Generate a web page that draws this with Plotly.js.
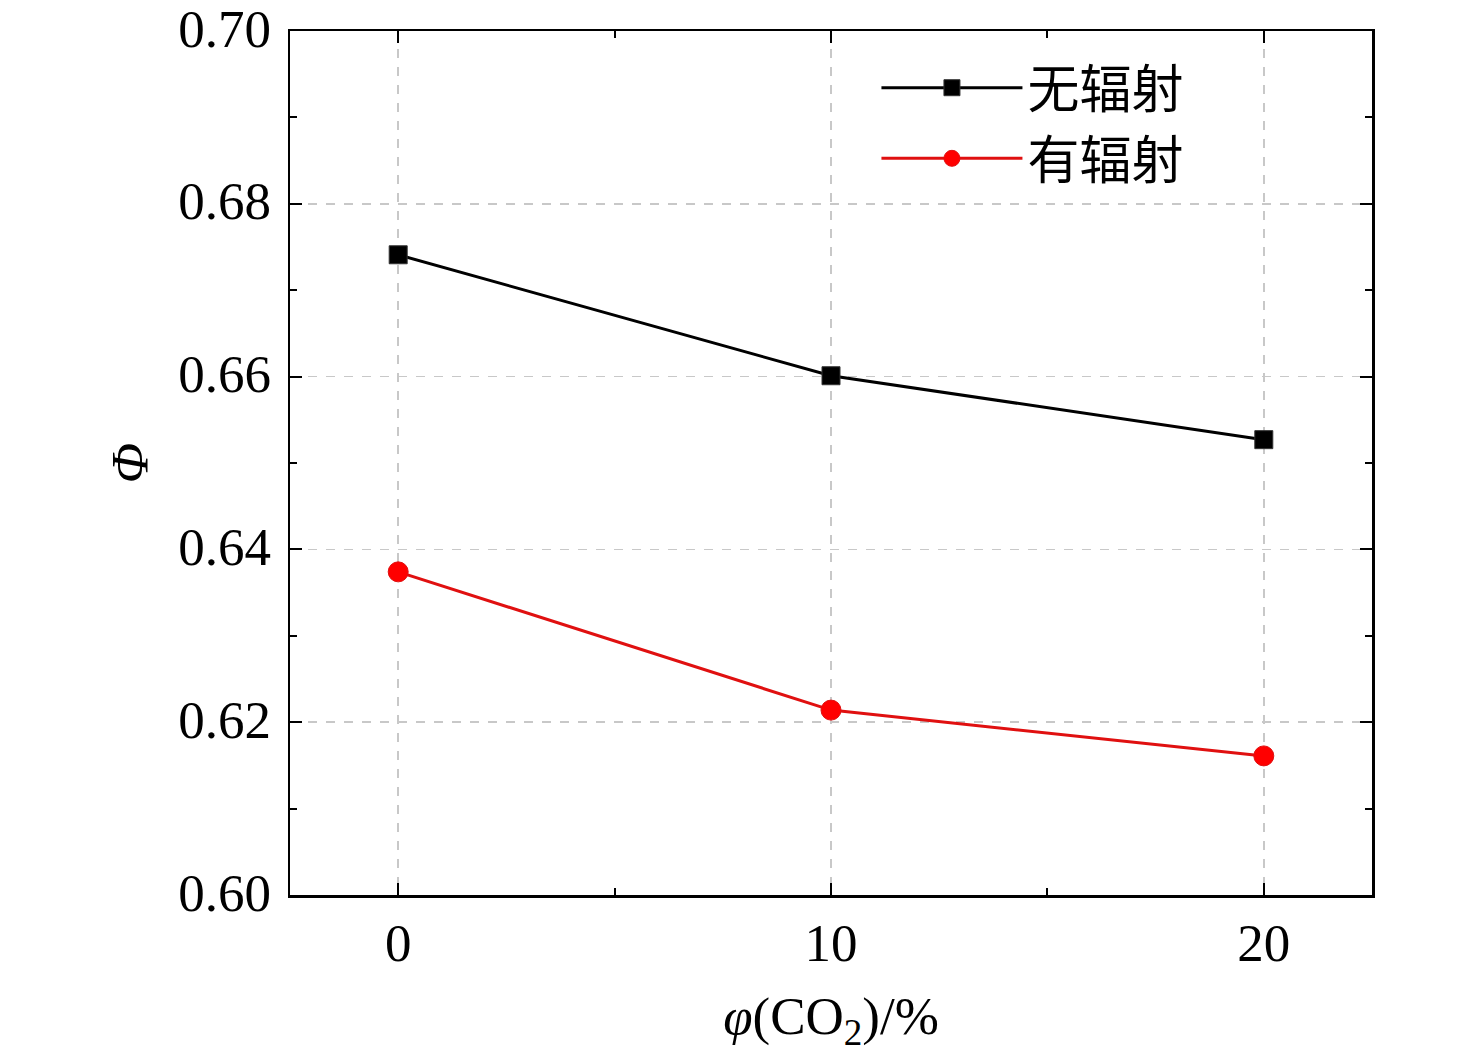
<!DOCTYPE html>
<html>
<head>
<meta charset="utf-8">
<script src="https://cdn.plot.ly/plotly-3.0.1.min.js"></script>
<style>html,body{margin:0;padding:0;background:#fff;}#chart{width:1476px;height:1063px;}</style>
</head>
<body>
<div id="chart"></div>
<script>
const co2 = [0, 10, 20];
const noRadiation = [0.6741, 0.6601, 0.6527];
const withRadiation = [0.6374, 0.6214, 0.6161];
const seriesNames = ['无辐射', '有辐射'];
const xTickVals = [0, 10, 20];
const yTickVals = [0.60, 0.62, 0.64, 0.66, 0.68, 0.70];

const FONT = '"Liberation Serif", "Times New Roman", "Noto Sans CJK SC", serif';

const traces = [
  {
    x: co2, y: noRadiation, name: seriesNames[0], type: 'scatter', mode: 'lines+markers',
    line: {color: '#000000', width: 3},
    marker: {symbol: 'square', size: 18, color: '#000000', line: {color: '#333', width: 1}}
  },
  {
    x: co2, y: withRadiation, name: seriesNames[1], type: 'scatter', mode: 'lines+markers',
    line: {color: '#e01010', width: 3},
    marker: {symbol: 'circle', size: 20, color: '#ff0000', line: {color: '#e01010', width: 1}}
  }
];

const layout = {
  width: 1476, height: 1063,
  margin: {l: 290, r: 104, t: 31, b: 168},
  paper_bgcolor: '#ffffff', plot_bgcolor: '#ffffff',
  font: {family: FONT, size: 53, color: '#000'},
  showlegend: true,
  legend: {
    x: 0.542, y: 0.981, xanchor: 'left', yanchor: 'top',
    bgcolor: 'rgba(0,0,0,0)', borderwidth: 0,
    font: {family: '"Noto Sans CJK SC", sans-serif', size: 52, color: '#000'},
    itemwidth: 141, itemsizing: 'trace', tracegroupgap: 0
  },
  xaxis: {
    range: [-2.5, 22.5],
    tickvals: xTickVals, ticktext: xTickVals.map(String),
    ticks: 'inside', ticklen: 12, tickwidth: 2, tickcolor: '#000',
    minor: {dtick: 5, ticks: 'inside', ticklen: 7, tickwidth: 2, tickcolor: '#000', showgrid: false},
    showline: true, linecolor: '#000', linewidth: 2.5, mirror: 'allticks',
    showgrid: true, gridcolor: '#c8c8c8', griddash: 'dash', gridwidth: 1.5,
    zeroline: false,
    tickfont: {family: FONT, size: 53},
    ticklabelstandoff: 0,
    title: {text: '<i>φ</i>(CO<sub>2</sub>)/%', font: {family: FONT, size: 53}, standoff: 26}
  },
  yaxis: {
    range: [0.60, 0.70],
    tickvals: yTickVals, ticktext: yTickVals.map(v => v.toFixed(2)),
    ticks: 'inside', ticklen: 12, tickwidth: 2, tickcolor: '#000',
    minor: {dtick: 0.01, tick0: 0.60, ticks: 'inside', ticklen: 7, tickwidth: 2, tickcolor: '#000', showgrid: false},
    showline: true, linecolor: '#000', linewidth: 2.5, mirror: 'allticks',
    showgrid: true, gridcolor: '#c8c8c8', griddash: 'dash', gridwidth: 1.5,
    zeroline: false,
    tickfont: {family: FONT, size: 53},
    ticklabelstandoff: 6,
    ticklabelshift: -3,
    ticklabeloverflow: 'allow',
    title: {text: '<i>Φ</i>', font: {family: FONT, size: 53}, standoff: 13}
  }
};

Plotly.newPlot('chart', traces, layout, {displayModeBar: false, staticPlot: true});
</script>
</body>
</html>
